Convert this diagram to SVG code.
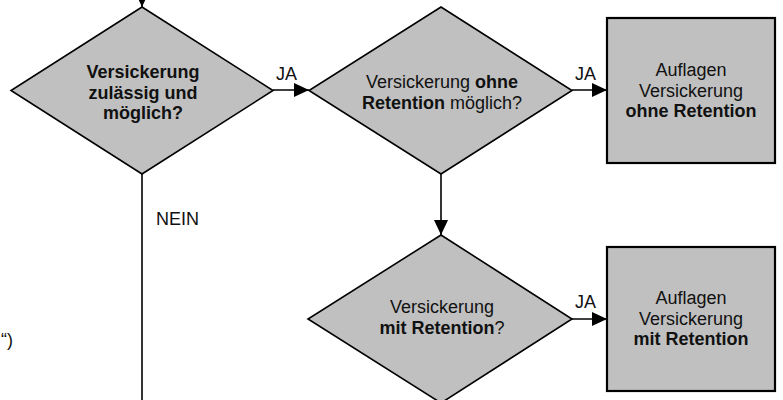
<svg xmlns="http://www.w3.org/2000/svg" width="783" height="400" viewBox="0 0 783 400">
<style>
.shape{fill:#c0c0c0;stroke:#000;stroke-width:1.6}
.box{fill:#c0c0c0;stroke:#000;stroke-width:2.2}
.t{font-family:"Liberation Sans",Arial,sans-serif;font-size:18px;fill:#111;text-anchor:middle}
.lbl{font-family:"Liberation Sans",Arial,sans-serif;font-size:18px;fill:#111}
.b{font-weight:bold}
.line{fill:none;stroke:#000;stroke-width:1.6}
</style>
<defs>
<marker id="arr" markerUnits="userSpaceOnUse" markerWidth="15" markerHeight="14" refX="15" refY="7" orient="auto">
<path d="M0,0 L15,7 L0,14 z" fill="#000"/>
</marker>
</defs>
<g id="connectors">
<line class="line" x1="142" y1="-30" x2="142" y2="7" marker-end="url(#arr)"/>
<line class="line" x1="273" y1="90" x2="309" y2="90" marker-end="url(#arr)"/>
<line class="line" x1="572" y1="90" x2="607" y2="90" marker-end="url(#arr)"/>
<line class="line" x1="441" y1="174" x2="441" y2="235" marker-end="url(#arr)"/>
<line class="line" x1="572" y1="319" x2="607" y2="319" marker-end="url(#arr)"/>
<line class="line" x1="142" y1="174" x2="142" y2="402"/>
<text class="lbl" x="276" y="80">JA</text>
<text class="lbl" x="575" y="80">JA</text>
<text class="lbl" x="575" y="308">JA</text>
<text class="lbl" x="156" y="225">NEIN</text>
</g>
<g id="d1">
<polygon class="shape" points="142,7 273,90.5 142,174 11,90.5"/>
<text class="t b" x="143" y="78">Versickerung</text>
<text class="t b" x="143" y="98.5">zulässig und</text>
<text class="t b" x="143" y="119">möglich?</text>
</g>
<g id="d2">
<polygon class="shape" points="441,7 572,90.5 441,174 309,90.5"/>
<text class="t" x="442" y="88">Versickerung <tspan class="b">ohne</tspan></text>
<text class="t" x="442" y="109"><tspan class="b">Retention</tspan> möglich?</text>
</g>
<g id="r1">
<rect class="box" x="607" y="18" width="168" height="145"/>
<text class="t" x="691" y="76">Auflagen</text>
<text class="t" x="691" y="96.5">Versickerung</text>
<text class="t b" x="691" y="117">ohne Retention</text>
</g>
<g id="d3">
<polygon class="shape" points="441,235 572,319 441,403 308,319"/>
<text class="t" x="442" y="313">Versickerung</text>
<text class="t" x="442" y="333.5"><tspan class="b">mit Retention</tspan>?</text>
</g>
<g id="r2">
<rect class="box" x="607" y="247" width="168" height="144"/>
<text class="t" x="691" y="304">Auflagen</text>
<text class="t" x="691" y="324.5">Versickerung</text>
<text class="t b" x="691" y="345">mit Retention</text>
</g>
<g id="fragment">
<text class="lbl" x="13" y="346" text-anchor="end">“)</text>
</g>
</svg>
